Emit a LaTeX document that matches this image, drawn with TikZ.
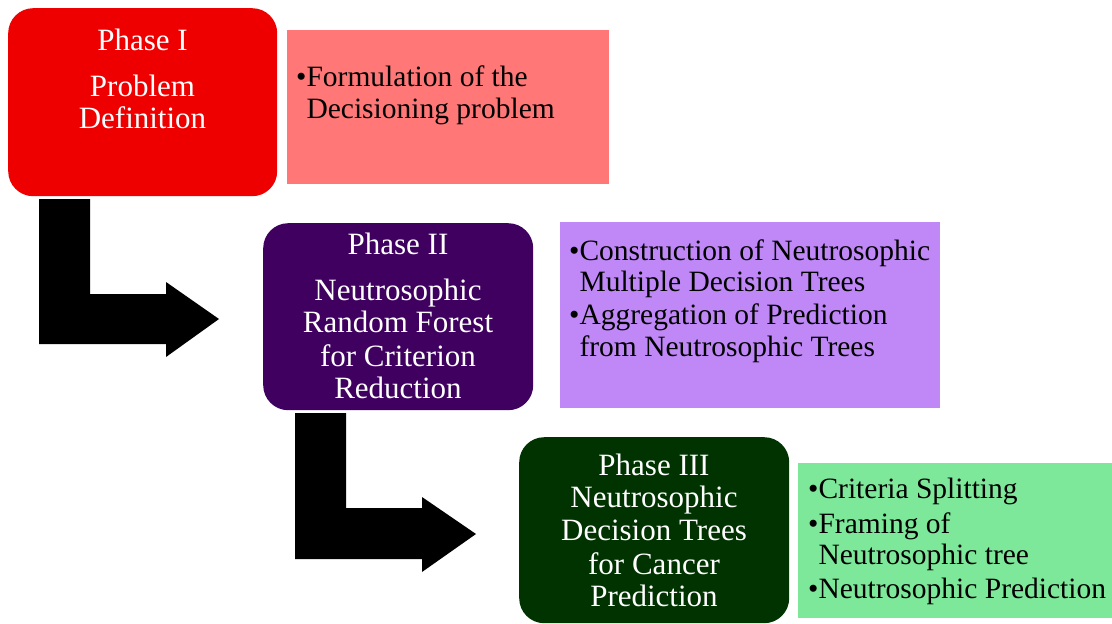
\documentclass[tikz,border=0pt]{standalone}
\usepackage{fontspec}
\setmainfont{Liberation Serif}
\definecolor{pred}{HTML}{EE0000}
\definecolor{ppink}{HTML}{FF7777}
\definecolor{ppurple}{HTML}{400060}
\definecolor{plav}{HTML}{C088F7}
\definecolor{pgreen}{HTML}{003300}
\definecolor{plgreen}{HTML}{7EE89A}
\begin{document}
\begin{tikzpicture}[x=1pt,y=-1pt,
  phasebox/.style={rounded corners=25pt, draw=none, inner sep=0pt, anchor=north west},
  infobox/.style={draw=none, inner sep=0pt, anchor=north west},
  wtext/.style={text=white, anchor=base, inner sep=0pt, font=\fontsize{31}{33}\selectfont},
  btext/.style={text=black, anchor=base west, inner sep=0pt, font=\fontsize{29.5}{32}\selectfont},
  blockarrow/.style={fill=black, draw=none}]
\useasboundingbox (0,0) rectangle (1112,624);

% boxes
\node[phasebox, fill=pred, minimum width=269pt, minimum height=188pt] (p1) at (8,8) {};
\node[infobox, fill=ppink, minimum width=322pt, minimum height=154pt] (i1) at (287,30) {};
\node[phasebox, fill=ppurple, minimum width=270pt, minimum height=187pt] (p2) at (263,223) {};
\node[infobox, fill=plav, minimum width=380pt, minimum height=186pt] (i2) at (560,222) {};
\node[phasebox, fill=pgreen, minimum width=270pt, minimum height=186pt] (p3) at (519,437) {};
\node[infobox, fill=plgreen, minimum width=314pt, minimum height=155pt] (i3) at (798,463) {};

% block arrows
\path[blockarrow] (39,199) -- (90,199) -- (90,294) -- (166,294) -- (166,282) -- (219,319)
  -- (166,357) -- (166,344) -- (39,344) -- cycle;
\path[blockarrow] (295,413) -- (346,413) -- (346,508) -- (422,508) -- (422,497) -- (476,534)
  -- (422,572) -- (422,559) -- (295,559) -- cycle;

% Phase I text
\node[wtext] (t1a) at (142.5,50) {Phase I};
\node[wtext] (t1b) at (142.5,96) {Problem};
\node[wtext] (t1c) at (142.5,128) {Definition};
\node[btext] (b1a) at (296,86) {•Formulation of the};
\node[btext] (b1b) at (296,118) {\hphantom{•}Decisioning problem};

% Phase II text
\node[wtext] (t2a) at (398,254) {Phase II};
\node[wtext] (t2b) at (398,300) {Neutrosophic};
\node[wtext] (t2c) at (398,332) {Random Forest};
\node[wtext] (t2d) at (398,366) {for Criterion};
\node[wtext] (t2e) at (398,398) {Reduction};
\node[btext] (b2a) at (569,260) {•Construction of Neutrosophic};
\node[btext] (b2b) at (569,291) {\hphantom{•}Multiple Decision Trees};
\node[btext] (b2c) at (569,324) {•Aggregation of Prediction};
\node[btext] (b2d) at (569,356) {\hphantom{•}from Neutrosophic Trees};

% Phase III text
\node[wtext] (t3a) at (654,475) {Phase III};
\node[wtext] (t3b) at (654,507) {Neutrosophic};
\node[wtext] (t3c) at (654,540) {Decision Trees};
\node[wtext] (t3d) at (654,574) {for Cancer};
\node[wtext] (t3e) at (654,606) {Prediction};
\node[btext] (b3a) at (808,498) {•Criteria Splitting};
\node[btext] (b3b) at (808,533) {•Framing of};
\node[btext] (b3c) at (808,564) {\hphantom{•}Neutrosophic tree};
\node[btext] (b3d) at (808,598) {•Neutrosophic Prediction};
\end{tikzpicture}
\end{document}
